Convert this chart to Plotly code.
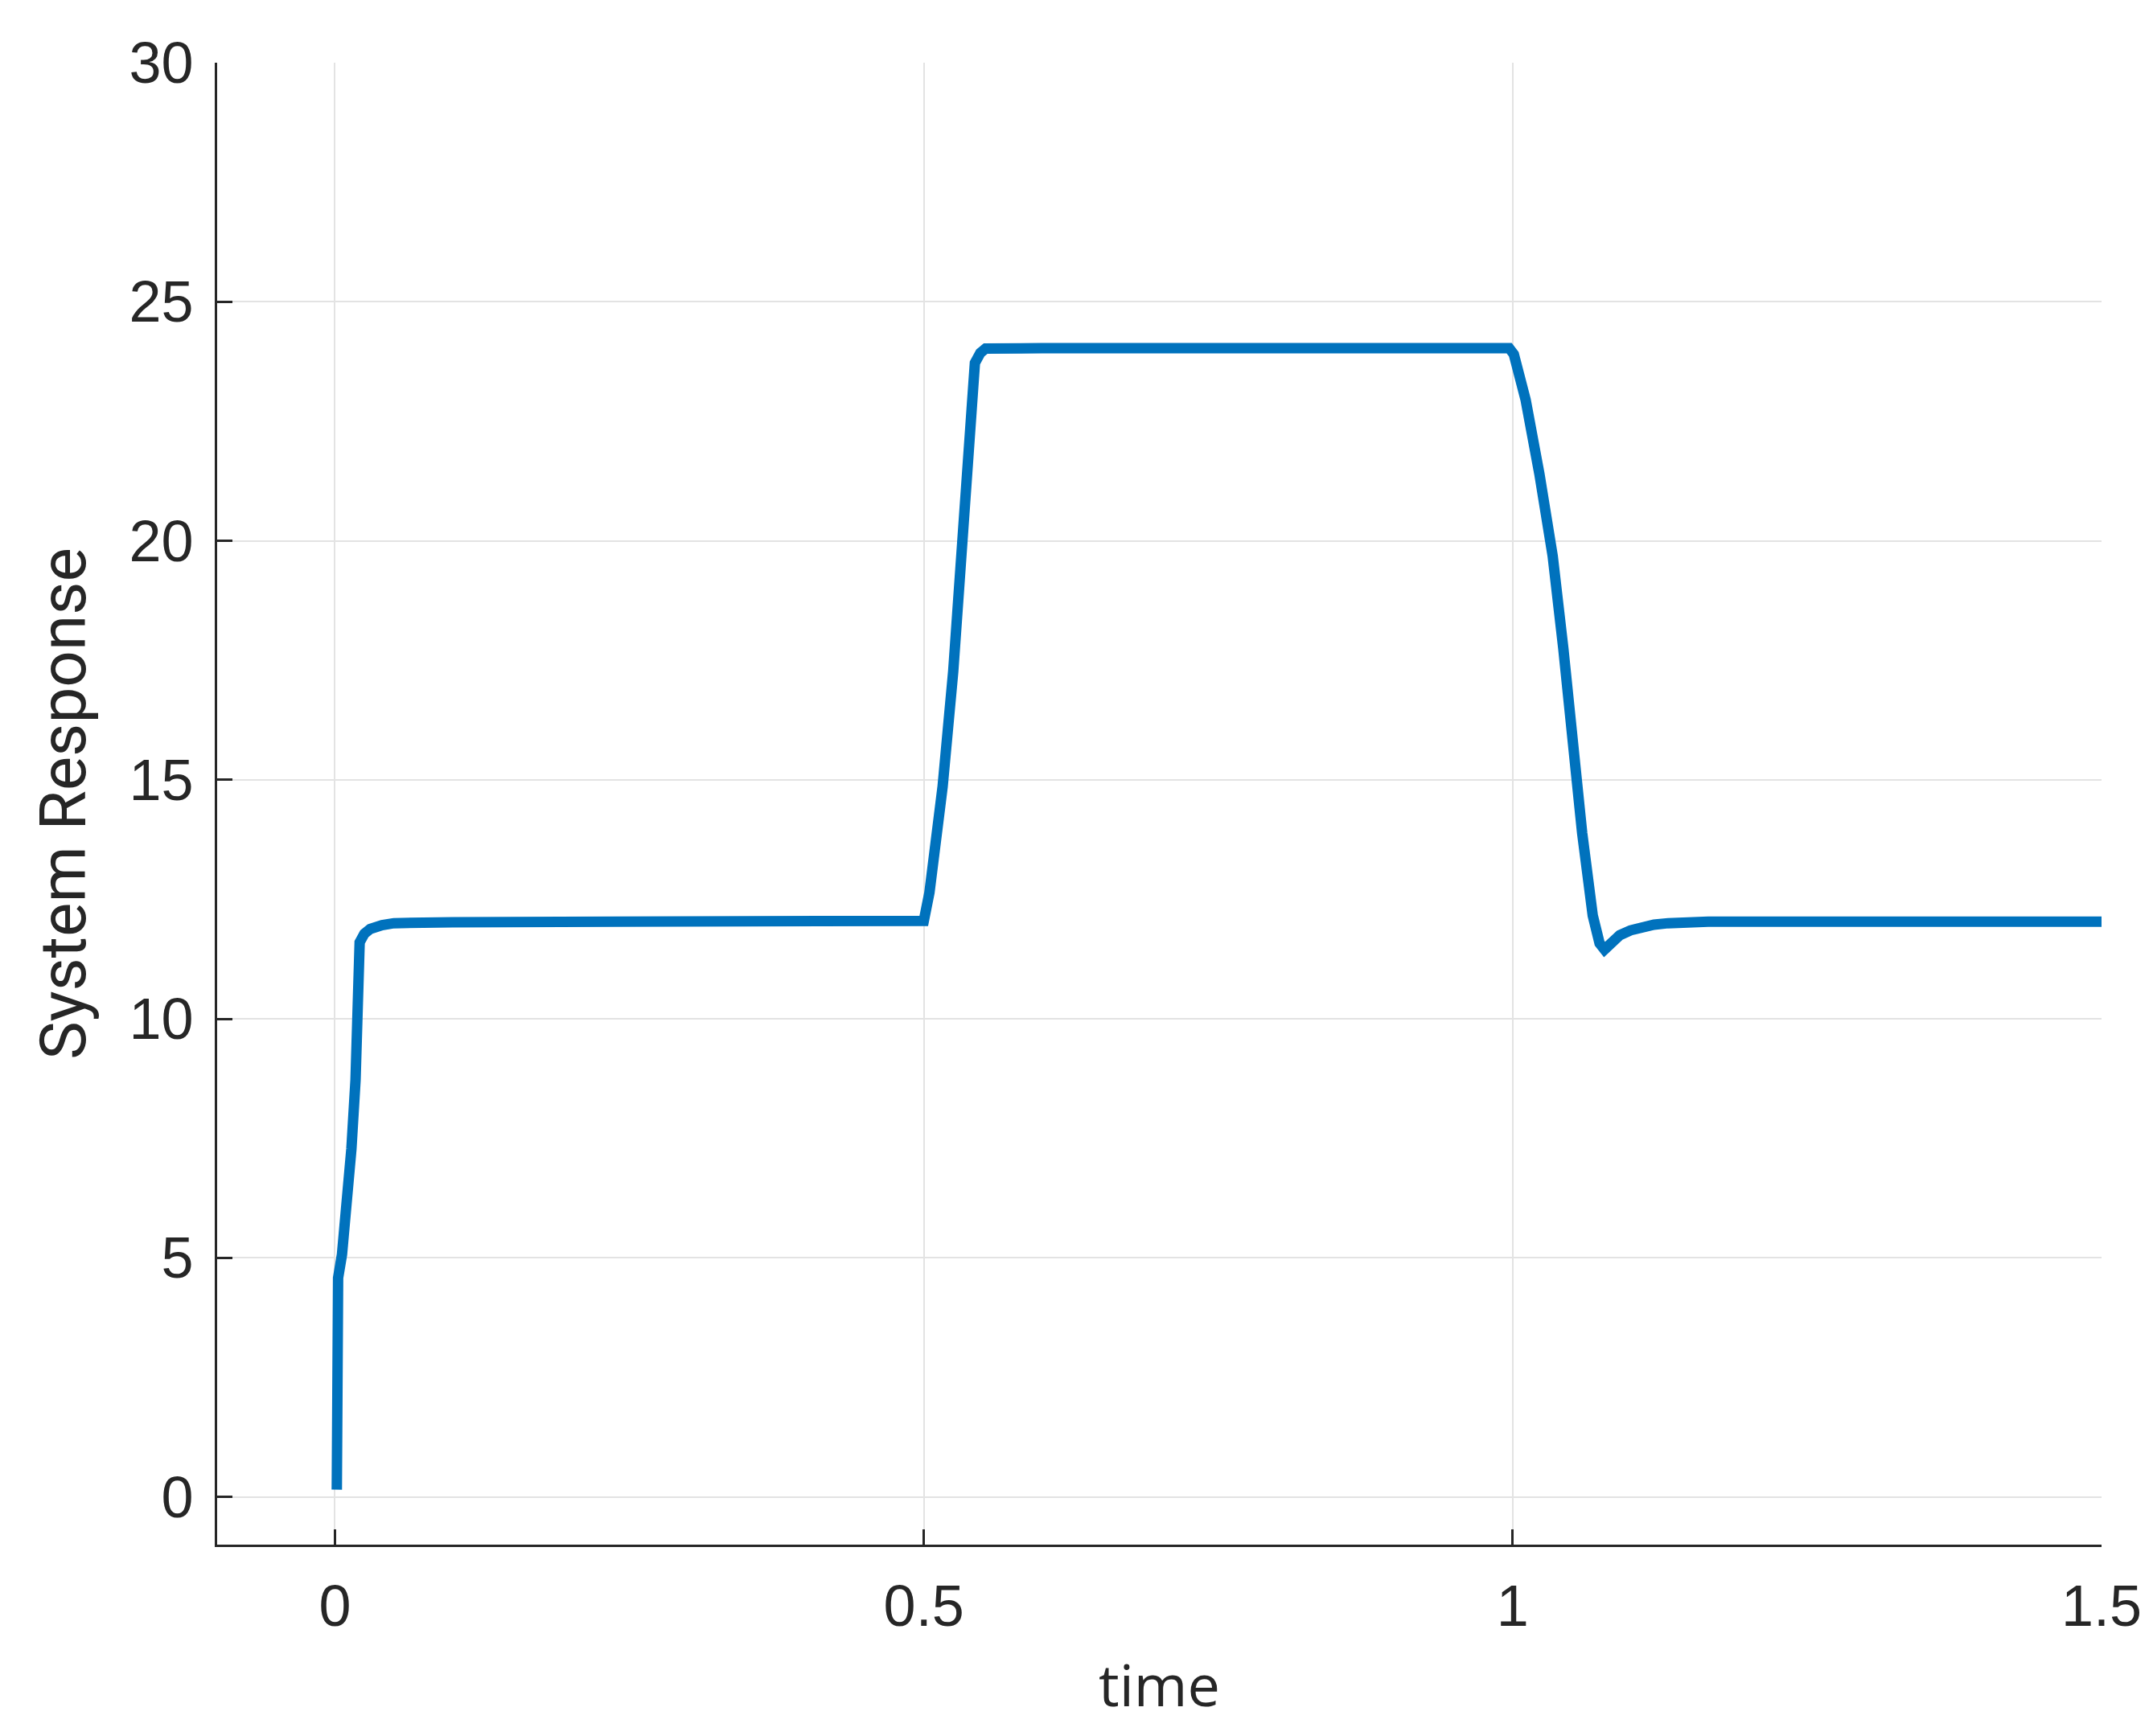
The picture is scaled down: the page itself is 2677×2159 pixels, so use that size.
"""Step-like system response, MATLAB-style axes."""

import plotly.graph_objects as go

# values
time = [
    0.0016, 0.0027, 0.006, 0.010, 0.014, 0.0175, 0.0186, 0.021, 0.025, 0.030,
    0.040, 0.050, 0.10, 0.20, 0.30, 0.40, 0.50,
    0.5048, 0.510, 0.516, 0.525, 0.533, 0.5388, 0.5434, 0.548, 0.5525,
    0.60, 0.70, 0.80, 0.90, 0.997,
    1.001, 1.011, 1.0227, 1.034, 1.043, 1.050, 1.059, 1.068, 1.0738, 1.078,
    1.084, 1.091, 1.100, 1.109, 1.12, 1.132, 1.166, 1.25, 1.35, 1.5,
]
response = [
    0.15, 4.58, 5.07, 6.1, 7.28, 8.72, 11.13, 11.6, 11.78, 11.88,
    11.96, 12.0, 12.02, 12.02, 12.02, 12.03, 12.05,
    12.64, 13.6, 14.86, 17.27, 19.97, 22.57, 23.72, 23.93, 24.02,
    24.03, 24.03, 24.02, 24.03, 24.03,
    23.9, 22.95, 21.4, 19.68, 17.75, 15.82, 13.89, 12.16, 11.58, 11.45,
    11.6, 11.75, 11.85, 11.92, 11.97, 12.0, 12.03, 12.03, 12.03, 12.03,
]

x_ticks = [0, 0.5, 1, 1.5]
x_tick_labels = ["0", "0.5", "1", "1.5"]
y_ticks = [0, 5, 10, 15, 20, 25, 30]

AXIS_COLOR = "#262626"
GRID_COLOR = "#e3e3e3"

fig = go.Figure()
fig.add_trace(go.Scatter(
    x=time,
    y=response,
    mode="lines",
    line=dict(color="#0072BD", width=13),
    showlegend=False,
))

axis_common = dict(
    showline=True,
    linecolor=AXIS_COLOR,
    linewidth=3,
    ticks="inside",
    ticklen=19,
    tickwidth=3,
    tickcolor=AXIS_COLOR,
    showgrid=True,
    gridcolor=GRID_COLOR,
    gridwidth=2,
    zeroline=False,
    tickfont=dict(family="Liberation Sans, Arial, sans-serif", size=72, color=AXIS_COLOR),
)

fig.update_xaxes(
    **axis_common,
    range=[-0.1, 1.5],
    tickvals=x_ticks,
    ticktext=x_tick_labels,
    ticklabelstandoff=12,
    title=dict(text="time", standoff=36,
               font=dict(family="Open Sans, sans-serif", size=72, color=AXIS_COLOR)),
)
fig.update_yaxes(
    **axis_common,
    range=[-1, 30],
    tickvals=y_ticks,
    ticklabelstandoff=12,
    title=dict(text="System Response", standoff=28,
               font=dict(family="Roboto, sans-serif", size=80, color=AXIS_COLOR)),
)

fig.update_layout(
    width=2677,
    height=2159,
    paper_bgcolor="white",
    plot_bgcolor="white",
    margin=dict(l=262, r=72, t=70, b=246),
)

fig.write_html("out.html")
